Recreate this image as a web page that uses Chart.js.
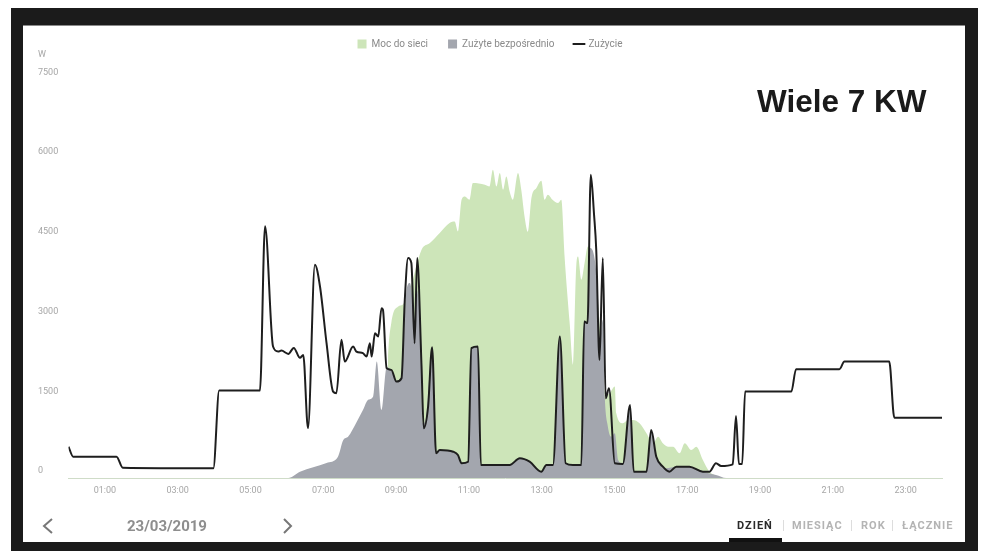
<!DOCTYPE html>
<html lang="pl">
<head>
<meta charset="UTF-8">
<title>Wiele 7 KW</title>
<script src="https://cdn.jsdelivr.net/npm/chart.js"></script>
<style>
  body { margin: 0; width: 995px; height: 551px; position: relative; overflow: hidden; background: #fff; font-family: Roboto, "Noto Sans", sans-serif; }
  .abs { position: absolute; white-space: nowrap; }
  .frame { left: 11px; top: 8px; width: 967px; height: 543px; background: #1b1b1b; }
  .panel { left: 23px; top: 25px; width: 942px; height: 517px; background: #fff; border-top: 1px solid #8a8a8a; box-sizing: border-box; }
  #powerChart { position: absolute; left: 0; top: 0; }
  .unit { left: 38px; top: 49px; font-size: 9px; color: #a6a6a6; }
  .title { left: 757px; top: 86px; font: bold 31.5px "Liberation Sans", Arial, sans-serif; line-height: 31px; color: #1a1a1a; }
  .date { left: 127px; top: 516px; font-size: 15px; font-weight: bold; color: #8e8e8e; line-height: 20px; }
  .tab { top: 519px; font-size: 11px; font-weight: bold; letter-spacing: 1px; line-height: 14px; color: #b4b4b4; }
  .tab.active { color: #2a2a2a; }
  .sep { top: 520px; width: 1px; height: 11px; background: #dddddd; }
  .underline { left: 729px; top: 538px; width: 53px; height: 4px; background: #111; }
</style>
</head>
<body>
<div class="abs frame"></div>
<div class="abs panel"></div>
<canvas id="powerChart" width="995" height="551"></canvas>
<div class="abs unit">W</div>
<div class="abs title">Wiele 7 KW</div>

<svg class="abs" style="left:0;top:0" width="995" height="551">
  <polyline points="52,519 44,526 52,533" fill="none" stroke="#777" stroke-width="2"/>
  <polyline points="284,519 291,526 284,533" fill="none" stroke="#777" stroke-width="2"/>
</svg>
<div class="abs date">23/03/2019</div>

<div class="abs tab active" style="left:737px">DZIEŃ</div>
<div class="abs sep" style="left:783px"></div>
<div class="abs tab" style="left:792px">MIESIĄC</div>
<div class="abs sep" style="left:851px"></div>
<div class="abs tab" style="left:861px">ROK</div>
<div class="abs sep" style="left:892px"></div>
<div class="abs tab" style="left:902px">ŁĄCZNIE</div>
<div class="abs underline"></div>

<script>
// Axis ticks
const xTickHours = [1, 3, 5, 7, 9, 11, 13, 15, 17, 19, 21, 23];
const xTickLabels = ['01:00', '03:00', '05:00', '07:00', '09:00', '11:00', '13:00', '15:00', '17:00', '19:00', '21:00', '23:00'];
const yTicks = [0, 1500, 3000, 4500, 6000, 7500];

// Zuzycie (consumption) - time in hours, value in W
const consTimes = [
  0, 0.13, 1.32, 1.49, 3.98, 4.14, 5.26, 5.40, 5.62, 5.76,
  5.85, 6.04, 6.19, 6.36, 6.45, 6.58, 6.77, 6.91, 7.09, 7.27,
  7.36, 7.50, 7.59, 7.82, 7.91, 8.09, 8.19, 8.28, 8.33, 8.42,
  8.51, 8.60, 8.64, 8.74, 8.87, 9.01, 9.15, 9.24, 9.33, 9.42,
  9.51, 9.58, 9.70, 9.76, 9.88, 9.99, 10.10, 10.20, 10.57, 10.70,
  10.80, 10.98, 11.07, 11.25, 11.33, 12.12, 12.40, 12.67, 12.99, 13.13,
  13.31, 13.50, 13.66, 13.86, 14.09, 14.17, 14.26, 14.35, 14.44, 14.50,
  14.59, 14.68, 14.76, 14.85, 15.01, 15.23, 15.43, 15.53, 15.88, 16.01,
  16.15, 16.33, 16.51, 16.70, 17.06, 17.43, 17.61, 17.79, 17.93, 18.25,
  18.34, 18.42, 18.51, 18.59, 19.86, 19.99, 21.18, 21.32, 22.55, 22.69,
  24
];
const consValues = [
  590, 401, 401, 194, 183, 1645, 1645, 4738, 2474, 2380,
  2398, 2336, 2449, 2261, 2317, 936, 4013, 3604, 2538, 1626,
  1596, 2600, 2191, 2474, 2380, 2349, 2285, 2538, 2285, 2726,
  2662, 3197, 3165, 2067, 2035, 1814, 1878, 3354, 4139, 4045,
  2538, 4139, 2097, 936, 1343, 2459, 465, 528, 495, 433,
  277, 307, 2444, 2474, 245, 245, 371, 307, 119, 245,
  245, 2662, 277, 245, 245, 2945, 2915, 5709, 4955, 4296,
  2223, 4139, 1502, 1690, 277, 264, 1375, 119, 119, 904,
  401, 213, 119, 213, 213, 119, 119, 277, 226, 258,
  1168, 264, 264, 1626, 1626, 2048, 2048, 2191, 2191, 1136,
  1136
];

// Zuzyte bezposrednio (self consumed)
const selfTimes = [
  0, 6.04, 6.36, 7.09, 7.40, 7.55, 7.68, 7.91, 8.09, 8.23,
  8.37, 8.47, 8.60, 8.74, 8.87, 9.01, 9.15, 9.29, 9.38, 9.47,
  9.51, 9.56, 9.65, 9.74, 9.83, 9.99, 10.10, 10.20, 10.57, 10.70,
  10.80, 10.98, 11.07, 11.25, 11.33, 12.12, 12.40, 12.67, 12.99, 13.13,
  13.31, 13.50, 13.66, 13.86, 14.09, 14.17, 14.26, 14.32, 14.46, 14.55,
  14.59, 14.68, 14.73, 14.82, 14.91, 15.01, 15.10, 15.23, 15.43, 15.53,
  15.88, 16.01, 16.15, 16.42, 16.70, 17.06, 17.43, 17.79, 18.07, 24
];
const selfValues = [
  0, 0, 119, 283, 396, 716, 778, 1046, 1281, 1470,
  1532, 2191, 1281, 2082, 2035, 1814, 1878, 3542, 3668, 3165,
  2568, 3542, 3039, 1031, 1155, 2449, 465, 528, 495, 433,
  277, 307, 2444, 2474, 245, 245, 371, 307, 119, 245,
  245, 2662, 277, 245, 245, 2945, 2915, 4328, 4107, 3354,
  2474, 2977, 1596, 966, 778, 842, 339, 277, 1343, 119,
  119, 872, 401, 183, 213, 213, 119, 57, 0, 0
];

// Moc do sieci (top of the green area)
const gridTimes = [
  0, 8.69, 8.78, 8.87, 9.06, 9.18, 9.38, 9.70, 9.93, 10.20,
  10.47, 10.61, 10.70, 10.80, 10.89, 11.02, 11.11, 11.44, 11.57, 11.66,
  11.76, 11.85, 11.94, 12.03, 12.12, 12.21, 12.35, 12.44, 12.53, 12.62,
  12.72, 12.86, 12.99, 13.08, 13.17, 13.30, 13.45, 13.54, 13.63, 13.77,
  13.86, 13.95, 14.00, 14.09, 14.18, 14.27, 14.35, 14.54, 14.76, 14.87,
  15.01, 15.05, 15.23, 15.37, 15.51, 15.69, 15.88, 16.06, 16.20, 16.33,
  16.47, 16.61, 16.79, 16.93, 17.11, 17.25, 17.43, 17.61, 17.75, 17.88,
  24
];
const gridValues = [
  0, 0, 2223, 2920, 3227, 3259, 3542, 4296, 4422, 4610,
  4799, 4829, 4640, 5238, 5300, 5238, 5552, 5520, 5488, 5803,
  5488, 5741, 5426, 5676, 5394, 5238, 5741, 5426, 4923, 4635,
  5275, 5464, 5595, 5238, 5332, 5238, 5175, 5238, 4169, 2915,
  2129, 3981, 4169, 3730, 4045, 4358, 4296, 3354, 1564, 1596,
  1720, 1219, 1031, 1093, 1093, 1031, 842, 654, 778, 654,
  590, 590, 465, 654, 528, 590, 339, 119, 57, 0,
  0
];

function toPoints(times, values) {
  return times.map((t, i) => ({ x: t, y: values[i] }));
}

// push the plot area down below the legend
const legendGap = {
  id: 'legendGap',
  beforeInit(chart) {
    const origFit = chart.legend.fit;
    chart.legend.fit = function fit() {
      origFit.bind(chart.legend)();
      this.height += 20.5;
    };
  }
};

const tickFont = { family: 'Roboto', size: 9 };

new Chart(document.getElementById('powerChart'), {
  type: 'line',
  data: {
    datasets: [
      {
        label: 'Moc do sieci',
        data: toPoints(gridTimes, gridValues),
        backgroundColor: '#cde5b9',
        borderColor: '#cde5b9',
        borderWidth: 0,
        fill: 'origin',
        pointRadius: 0,
        pointStyle: 'rect',
        cubicInterpolationMode: 'monotone',
        order: 2
      },
      {
        label: 'Zużyte bezpośrednio',
        data: toPoints(selfTimes, selfValues),
        backgroundColor: '#a3a6ae',
        borderColor: '#a3a6ae',
        borderWidth: 0,
        fill: 'origin',
        pointRadius: 0,
        pointStyle: 'rect',
        cubicInterpolationMode: 'monotone',
        order: 1
      },
      {
        label: 'Zużycie',
        data: toPoints(consTimes, consValues),
        borderColor: '#1e1e1e',
        backgroundColor: '#1e1e1e',
        borderWidth: 2,
        fill: false,
        pointRadius: 0,
        pointStyle: 'line',
        cubicInterpolationMode: 'monotone',
        order: 0
      }
    ]
  },
  options: {
    responsive: false,
    animation: false,
    events: [],
    layout: { padding: { left: 38, right: 53, top: 19, bottom: 53 } },
    scales: {
      x: {
        type: 'linear',
        min: 0,
        max: 24,
        grid: { display: false, drawTicks: false },
        border: { display: true, color: '#cfdcc8', width: 1 },
        afterBuildTicks: s => { s.ticks = xTickHours.map(v => ({ value: v })); },
        afterFit: s => { s.height = 20; },
        ticks: {
          autoSkip: false,
          maxRotation: 0,
          padding: 7,
          color: '#a6a6a6',
          font: tickFont,
          callback: (value, index) => xTickLabels[index]
        }
      },
      y: {
        min: 0,
        max: 7500,
        grid: { display: false, drawTicks: false },
        border: { display: false },
        afterBuildTicks: s => { s.ticks = yTicks.map(v => ({ value: v })); },
        afterFit: s => { s.width = 30.5; },
        ticks: {
          crossAlign: 'far',
          labelOffset: -7,
          color: '#a6a6a6',
          font: tickFont,
          callback: value => String(value)
        }
      }
    },
    plugins: {
      legend: {
        display: true,
        position: 'top',
        labels: {
          usePointStyle: true,
          boxWidth: 9,
          boxHeight: 9,
          padding: 20,
          color: '#8a8a8a',
          font: { family: 'Roboto', size: 10 },
          sort: (a, b) => a.datasetIndex - b.datasetIndex
        }
      },
      tooltip: { enabled: false }
    }
  },
  plugins: [legendGap]
});
</script>
</body>
</html>
